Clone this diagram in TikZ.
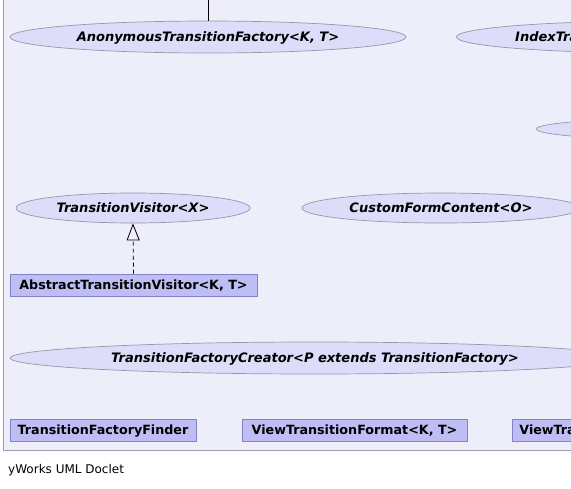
\documentclass[tikz,border=0pt]{standalone}
\usepackage{fontspec}
\setmainfont{DejaVu Sans}
\usetikzlibrary{arrows.meta}
\usetikzlibrary{shapes.geometric}

\definecolor{panelbg}{RGB}{238,238,250}
\definecolor{panelline}{RGB}{160,160,170}
\definecolor{ifacefill}{RGB}{221,221,250}
\definecolor{ifaceline}{RGB}{150,150,170}
\definecolor{clsfill}{RGB}{190,190,245}
\definecolor{clsline}{RGB}{130,130,200}

\tikzset{
  iface/.style={ellipse, draw=ifaceline, fill=ifacefill, inner sep=0pt, line width=0.7pt,
    text height=10.5pt, text depth=1pt,
    font=\fontsize{13}{15}\selectfont\bfseries\itshape},
  cls/.style={rectangle, draw=clsline, fill=clsfill, inner sep=0pt, line width=0.8pt,
    text height=10pt, text depth=1pt,
    minimum height=22pt, font=\fontsize{12.7}{15}\selectfont\bfseries},
  realize/.style={line width=0.8pt, dash pattern=on 4pt off 3pt,
    -{Triangle[open, length=17pt, width=13pt, line width=0.8pt]}, fill=white},
}

\begin{document}
\begin{tikzpicture}[x=1pt, y=-1pt]
  \useasboundingbox (0,0) rectangle (571,488);
  \clip (0,0) rectangle (571,488);

  % panel
  \draw[panelline, fill=panelbg, line width=0.8pt] (3,-10) rectangle (600,450);

  % interfaces
  \node[iface, minimum width=396pt, minimum height=32pt] (anon) at (208,37) {AnonymousTransitionFactory<K, T>};
  \node[iface, minimum width=400pt, minimum height=32pt, anchor=west, text width=284pt, align=left] (index) at (456,37) {IndexTransitionFactory<K, T>};
  \node[iface, minimum width=300pt, minimum height=22pt, anchor=west] (right) at (536,129) {};
  \node[iface, minimum width=234pt, minimum height=30pt] (visitor) at (133,208) {TransitionVisitor<X>};
  \node[iface, minimum width=278pt, minimum height=30pt] (form) at (441,208) {CustomFormContent<O>};
  \node[iface, minimum width=610pt, minimum height=32pt] (creator) at (315,358) {TransitionFactoryCreator<P extends TransitionFactory>};

  % classes
  \node[cls, minimum width=247pt] (absvisitor) at (133.5,285) {AbstractTransitionVisitor<K, T>};
  \node[cls, minimum width=186pt] (finder) at (103,430) {TransitionFactoryFinder};
  \node[cls, minimum width=225pt] (format) at (354.5,430) {ViewTransitionFormat<K, T>};
  \node[cls, anchor=west, inner xsep=7pt, text width=230pt, align=left] (viewtr) at (512,430) {ViewTransitionFactory<K, T>};

  % connectors
  \coordinate (topend) at (208,0);
  \draw[line width=0.8pt] (topend) -- (anon.north);
  \draw[realize] (absvisitor.north) -- (visitor.south);

  \node[anchor=west, inner sep=0pt, font=\fontsize{12}{14}\selectfont] (footer) at (8,470) {yWorks UML Doclet};
\end{tikzpicture}
\end{document}
